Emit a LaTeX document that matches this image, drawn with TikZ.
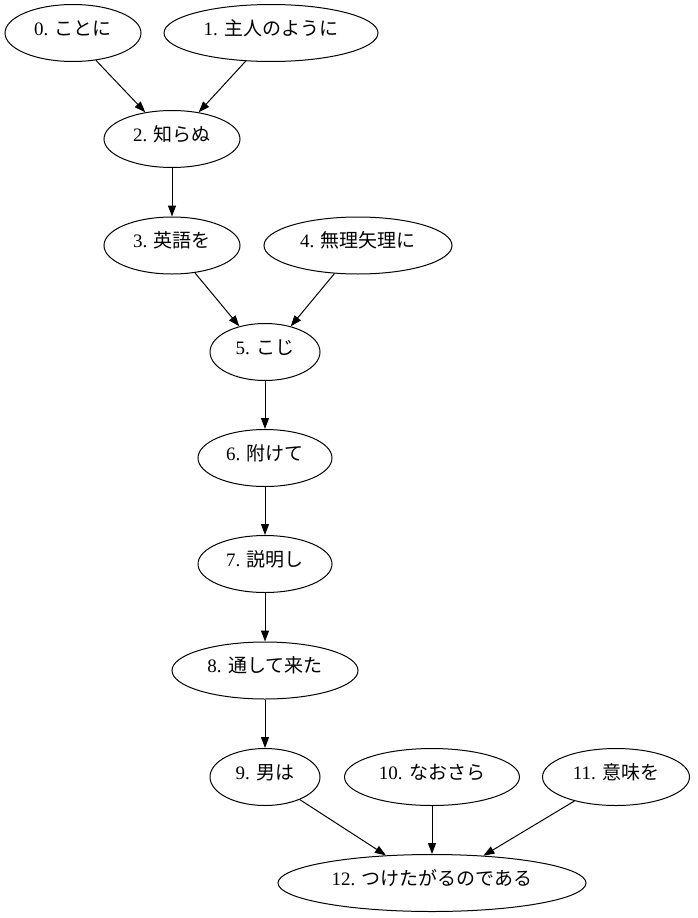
\documentclass[tikz,border=0pt]{standalone}
\usepackage{fontspec}
\setmainfont{Liberation Serif}
\newfontfamily\cjk{Noto Sans CJK JP}
\usetikzlibrary{arrows.meta,shapes.geometric}
\begin{document}
\begin{tikzpicture}[x=1pt,y=-1pt,
  wnode/.style={draw,ellipse,line width=1pt,inner sep=0pt,
    minimum height=57pt,text height=14pt,text depth=10pt,
    font=\fontsize{19}{22}\selectfont},
  arc/.style={line width=1pt,-{Triangle[length=11pt,width=8pt]}}]
\useasboundingbox (0,0) rectangle (697,918);
% nodes, one rank per row
\node[wnode,minimum width=136pt] (n0)  at (73,33)    {0. {\cjk ことに}};
\node[wnode,minimum width=214pt] (n1)  at (271,33)   {1. {\cjk 主人のように}};
\node[wnode,minimum width=136pt] (n2)  at (172,139)  {2. {\cjk 知らぬ}};
\node[wnode,minimum width=136pt] (n3)  at (172,245.5){3. {\cjk 英語を}};
\node[wnode,minimum width=188pt] (n4)  at (358,245.5){4. {\cjk 無理矢理に}};
\node[wnode,minimum width=110pt] (n5)  at (265,352)  {5. {\cjk こじ}};
\node[wnode,minimum width=134pt] (n6)  at (265,458)  {6. {\cjk 附けて}};
\node[wnode,minimum width=134pt] (n7)  at (265,564)  {7. {\cjk 説明し}};
\node[wnode,minimum width=186pt] (n8)  at (265,670.5){8. {\cjk 通して来た}};
\node[wnode,minimum width=110pt] (n9)  at (265,777)  {9. {\cjk 男は}};
\node[wnode,minimum width=175pt] (n10) at (432,777)  {10. {\cjk なおさら}};
\node[wnode,minimum width=147pt] (n11) at (616,777)  {11. {\cjk 意味を}};
\node[wnode,minimum width=308pt] (n12) at (432,883)  {12. {\cjk つけたがるのである}};
% dependency arcs
\draw[arc] (n0.310) -- (n2.135);
\draw[arc] (n1.228) -- (n2.45);
\draw[arc] (n2.south) -- (n3.north);
\draw[arc] (n3.310) -- (n5.135);
\draw[arc] (n4.230) -- (n5.45);
\draw[arc] (n5.south) -- (n6.north);
\draw[arc] (n6.south) -- (n7.north);
\draw[arc] (n7.south) -- (n8.north);
\draw[arc] (n8.south) -- (n9.north);
\draw[arc] (n9.327) -- (n12.149);
\draw[arc] (n10.south) -- (n12.north);
\draw[arc] (n11.210) -- (n12.28.5);
\end{tikzpicture}
\end{document}
